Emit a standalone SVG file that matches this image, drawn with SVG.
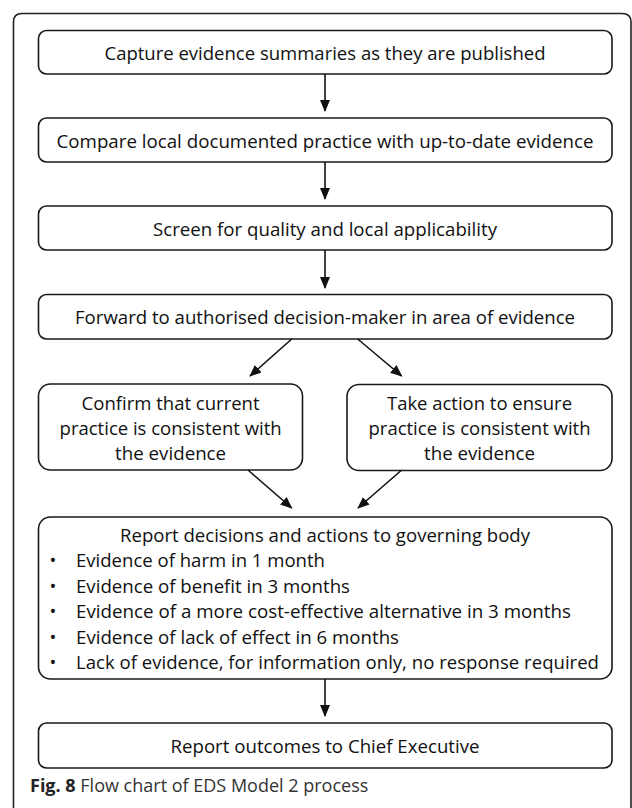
<svg xmlns="http://www.w3.org/2000/svg" width="632" height="808" viewBox="0 0 632 808">
  <style>
    .box { fill: #ffffff; stroke: #1a1a1a; stroke-width: 1.6; }
    .frame { fill: none; stroke: #222222; stroke-width: 1.6; }
    .lbl { font-family: "Open Sans", "Noto Sans", sans-serif; font-size: 18px; fill: #111111; }
    .mid { text-anchor: middle; }
    .edge { stroke: #111111; stroke-width: 1.6; fill: none; marker-end: url(#arrow); }
    .cap { font-family: "Open Sans", "Noto Sans", sans-serif; font-size: 18px; fill: #333333; }
    .capb { font-weight: bold; fill: #222222; }
  </style>
  <defs>
    <marker id="arrow" viewBox="0 0 12 10" refX="11" refY="5" markerWidth="12" markerHeight="10" markerUnits="userSpaceOnUse" orient="auto">
      <path d="M0,0 L12,5 L0,10 Z" fill="#111111"/>
    </marker>
  </defs>

  <!-- outer frame -->
  <path class="frame" d="M13.5,808 V22 Q13.5,13.5 22,13.5 H622 Q631,13.5 631,22 V808"/>

  <g id="capture">
    <rect class="box" x="38.5" y="30.5" width="573.5" height="43.5" rx="8"/>
    <text class="lbl mid" x="325" y="60" textLength="441" lengthAdjust="spacingAndGlyphs">Capture evidence summaries as they are published</text>
  </g>

  <g id="compare">
    <rect class="box" x="38.5" y="118" width="573.5" height="44" rx="8"/>
    <text class="lbl mid" x="325" y="148" textLength="537" lengthAdjust="spacingAndGlyphs">Compare local documented practice with up-to-date evidence</text>
  </g>

  <g id="screen">
    <rect class="box" x="38.5" y="206" width="573.5" height="44" rx="8"/>
    <text class="lbl mid" x="325" y="236" textLength="344" lengthAdjust="spacingAndGlyphs">Screen for quality and local applicability</text>
  </g>

  <g id="forward">
    <rect class="box" x="38.5" y="294.5" width="573.5" height="44.5" rx="8"/>
    <text class="lbl mid" x="325" y="324" textLength="500" lengthAdjust="spacingAndGlyphs">Forward to authorised decision-maker in area of evidence</text>
  </g>

  <g id="confirm">
    <rect class="box" x="38.5" y="384" width="264" height="86" rx="12"/>
    <text class="lbl mid" x="170.6" y="410" textLength="178" lengthAdjust="spacingAndGlyphs">Confirm that current</text>
    <text class="lbl mid" x="170.6" y="435" textLength="222" lengthAdjust="spacingAndGlyphs">practice is consistent with</text>
    <text class="lbl mid" x="170.6" y="460" textLength="111" lengthAdjust="spacingAndGlyphs">the evidence</text>
  </g>

  <g id="take-action">
    <rect class="box" x="347" y="384.5" width="265" height="86" rx="12"/>
    <text class="lbl mid" x="479.5" y="410" textLength="185" lengthAdjust="spacingAndGlyphs">Take action to ensure</text>
    <text class="lbl mid" x="479.5" y="435" textLength="222" lengthAdjust="spacingAndGlyphs">practice is consistent with</text>
    <text class="lbl mid" x="479.5" y="460" textLength="111" lengthAdjust="spacingAndGlyphs">the evidence</text>
  </g>

  <g id="report-governing">
    <rect class="box" x="38.5" y="517" width="573.5" height="162" rx="12"/>
    <text class="lbl mid" x="325" y="542" textLength="410" lengthAdjust="spacingAndGlyphs">Report decisions and actions to governing body</text>
    <text class="lbl mid" x="53" y="567">•</text>
    <text class="lbl" x="76" y="567" textLength="249" lengthAdjust="spacingAndGlyphs">Evidence of harm in 1 month</text>
    <text class="lbl mid" x="53" y="593">•</text>
    <text class="lbl" x="76" y="593" textLength="274" lengthAdjust="spacingAndGlyphs">Evidence of benefit in 3 months</text>
    <text class="lbl mid" x="53" y="618">•</text>
    <text class="lbl" x="76" y="618" textLength="495" lengthAdjust="spacingAndGlyphs">Evidence of a more cost-effective alternative in 3 months</text>
    <text class="lbl mid" x="53" y="644">•</text>
    <text class="lbl" x="76" y="644" textLength="323" lengthAdjust="spacingAndGlyphs">Evidence of lack of effect in 6 months</text>
    <text class="lbl mid" x="53" y="669">•</text>
    <text class="lbl" x="76" y="669" textLength="523" lengthAdjust="spacingAndGlyphs">Lack of evidence, for information only, no response required</text>
  </g>

  <g id="report-ceo">
    <rect class="box" x="38.5" y="723" width="573.5" height="45" rx="8"/>
    <text class="lbl mid" x="325" y="753" textLength="309" lengthAdjust="spacingAndGlyphs">Report outcomes to Chief Executive</text>
  </g>

  <g id="connectors">
    <line class="edge" x1="325" y1="74" x2="325" y2="111"/>
    <line class="edge" x1="325" y1="162" x2="325" y2="199"/>
    <line class="edge" x1="325" y1="250" x2="325" y2="288"/>
    <line class="edge" x1="291.7" y1="339" x2="250" y2="376"/>
    <line class="edge" x1="357.7" y1="339" x2="401.7" y2="376"/>
    <line class="edge" x1="248" y1="470" x2="291.7" y2="508"/>
    <line class="edge" x1="401.7" y1="470" x2="358" y2="508"/>
    <line class="edge" x1="325" y1="679" x2="325" y2="716"/>
  </g>

  <text class="cap" x="30" y="792"><tspan class="capb">Fig. 8</tspan> Flow chart of EDS Model 2 process</text>
</svg>
